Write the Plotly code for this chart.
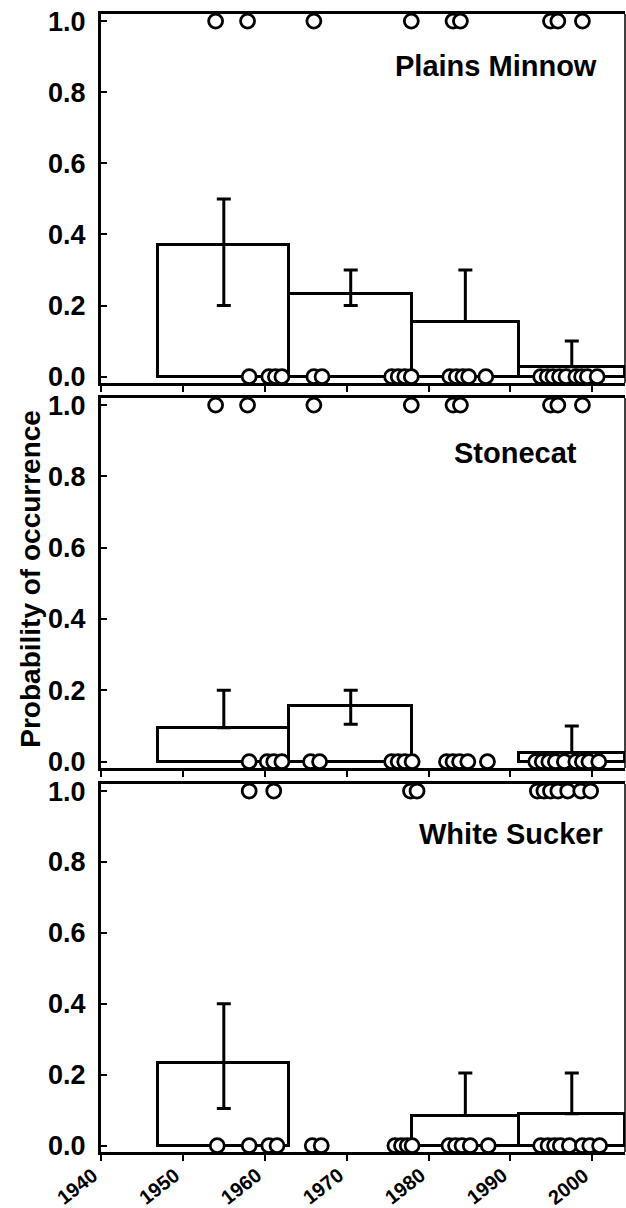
import plotly.graph_objects as go

# ---------------- data ----------------
species = ["Plains Minnow", "Stonecat", "White Sucker"]
x_ticks = [1940, 1950, 1960, 1970, 1980, 1990, 2000]
y_ticks = [0.0, 0.2, 0.4, 0.6, 0.8, 1.0]

# time-period bins (years)
bin_left = [1947, 1963, 1978, 1991]
bin_right = [1963, 1978, 1991, 2004]

# probability of occurrence per bin (None = no bar)
pm_height = [0.37, 0.233, 0.155, 0.028]
pm_err_hi = [0.5, 0.3, 0.3, 0.1]
pm_err_lo = [0.2, 0.2, None, None]

sc_height = [0.095, 0.155, None, 0.025]
sc_err_hi = [0.2, 0.2, None, 0.1]
sc_err_lo = [None, 0.105, None, None]

ws_height = [0.232, None, 0.085, 0.09]
ws_err_hi = [0.4, None, 0.205, 0.205]
ws_err_lo = [0.105, None, None, None]

# individual samples (year) – present (1) and absent (0)
pm_present = [1954.0, 1957.9, 1966.0, 1977.9, 1983.0, 1983.9, 1994.9, 1995.8, 1998.8]
pm_absent = [1958.1, 1960.5, 1961.3, 1962.1, 1966.0, 1967.0, 1975.5, 1976.3, 1977.1,
             1977.9, 1982.6, 1983.4, 1984.2, 1984.9, 1987.0, 1993.7, 1994.5, 1995.2,
             1996.0, 1996.8, 1998.0, 1998.7, 1999.4, 2000.6]

sc_present = [1954.0, 1957.9, 1966.0, 1977.9, 1983.0, 1983.9, 1994.9, 1995.8, 1998.8]
sc_absent = [1958.1, 1960.3, 1961.1, 1962.1, 1965.6, 1966.7, 1975.5, 1976.3, 1977.1,
             1978.0, 1982.2, 1983.0, 1983.8, 1984.8, 1987.2, 1993.1, 1993.9, 1994.7,
             1995.5, 1996.6, 1998.0, 1998.8, 1999.6, 2000.8]

ws_present = [1958.1, 1961.1, 1977.8, 1978.6, 1993.3, 1994.1, 1994.9, 1995.8, 1997.0,
              1998.6, 1999.8]
ws_absent = [1954.2, 1958.1, 1960.5, 1961.5, 1965.8, 1966.9, 1975.9, 1976.7, 1977.4,
             1978.0, 1982.5, 1983.3, 1984.1, 1985.1, 1987.3, 1993.7, 1994.6, 1995.4,
             1996.1, 1997.2, 1998.8, 1999.7, 2000.9]

label_x = [2000.8, 1998.4, 2001.6]
label_y = [0.875, 0.865, 0.88]

panels = [
    (pm_height, pm_err_hi, pm_err_lo, pm_present, pm_absent),
    (sc_height, sc_err_hi, sc_err_lo, sc_present, sc_absent),
    (ws_height, ws_err_hi, ws_err_lo, ws_present, ws_absent),
]

# ---------------- figure ----------------
FONT = "Liberation Sans"
fig = go.Figure()

domains = [[0.6757, 1.0], [0.3374, 0.6626], [0.0, 0.3234]]
axis_ids = ["", "2", "3"]

for i, (h, ehi, elo, pres, absn) in enumerate(panels):
    xa = "x" + axis_ids[i]
    ya = "y" + axis_ids[i]
    bx, bw, bh, up, dn = [], [], [], [], []
    for j in range(len(h)):
        if h[j] is None:
            continue
        bx.append((bin_left[j] + bin_right[j]) / 2)
        bw.append(bin_right[j] - bin_left[j])
        bh.append(h[j])
        up.append(ehi[j] - h[j] if ehi[j] is not None else 0)
        dn.append(h[j] - elo[j] if elo[j] is not None else 0)
    fig.add_trace(go.Bar(
        x=bx, y=bh, width=bw, base=0,
        marker=dict(color="white", line=dict(color="black", width=3)),
        error_y=dict(type="data", symmetric=False, array=up, arrayminus=dn,
                     color="black", thickness=3, width=7),
        xaxis=xa, yaxis=ya, showlegend=False, hoverinfo="skip",
    ))
    fig.add_trace(go.Scatter(
        x=pres, y=[1] * len(pres), mode="markers",
        marker=dict(symbol="circle", size=14, color="white",
                    line=dict(color="black", width=2.8)),
        cliponaxis=False, xaxis=xa, yaxis=ya, showlegend=False,
    ))
    fig.add_trace(go.Scatter(
        x=absn, y=[0] * len(absn), mode="markers",
        marker=dict(symbol="circle", size=14, color="white",
                    line=dict(color="black", width=2.8)),
        cliponaxis=False, xaxis=xa, yaxis=ya, showlegend=False,
    ))
    fig.add_annotation(
        x=label_x[i], y=label_y[i], xref=xa, yref=ya, text=species[i],
        showarrow=False, xanchor="right", yanchor="middle",
        font=dict(family=FONT, size=29, color="black", weight="bold"),
    )
    fig.add_shape(type="line", xref="paper", x0=1, x1=1,
                  yref=ya + " domain", y0=0, y1=1,
                  line=dict(color="black", width=1.5))

    xkw = dict(
        range=[1940, 2004], domain=[0, 1], tickvals=x_ticks,
        ticks="outside", ticklen=6, tickwidth=2, tickcolor="black",
        showline=True, linewidth=3, linecolor="black", mirror=True,
        showgrid=False, zeroline=False, anchor=ya, automargin=False,
        showticklabels=False,
    )
    ykw = dict(
        range=[-0.018, 1.02], domain=domains[i], tickvals=y_ticks,
        tickformat=".1f", ticks="inside", ticklen=6, tickwidth=2,
        tickcolor="black", showline=True, linewidth=3, linecolor="black",
        showgrid=False, zeroline=False, anchor=xa, ticklabelstandoff=7,
        automargin=False,
        tickfont=dict(family=FONT, size=27, color="black", weight="bold"),
    )
    if i < 2:
        xkw["matches"] = "x3"
    fig.update_layout(**{"xaxis" + axis_ids[i]: xkw, "yaxis" + axis_ids[i]: ykw})

# angled year labels under the bottom panel, anchored at the tick positions
for t in x_ticks:
    fig.add_annotation(
        x=t, y=0, xref="x3", yref="paper", text=str(t), textangle=-38,
        showarrow=False, xanchor="right", yanchor="top", xshift=4, yshift=-9,
        font=dict(family=FONT, size=20, color="black", weight="bold"),
    )

fig.add_annotation(
    x=-0.135, y=0.504, xref="paper", yref="paper",
    text="Probability of occurrence", textangle=-90, showarrow=False,
    xanchor="center", yanchor="middle",
    font=dict(family=FONT, size=28, color="black", weight="bold"),
)

fig.update_layout(
    width=626, height=1208,
    margin=dict(l=101, r=1, t=14, b=56, autoexpand=False),
    paper_bgcolor="white", plot_bgcolor="white",
    bargap=0,
)

fig.write_html("out.html", config={"displayModeBar": False},
               post_script="document.body.style.margin='0';document.body.style.overflow='hidden';")
